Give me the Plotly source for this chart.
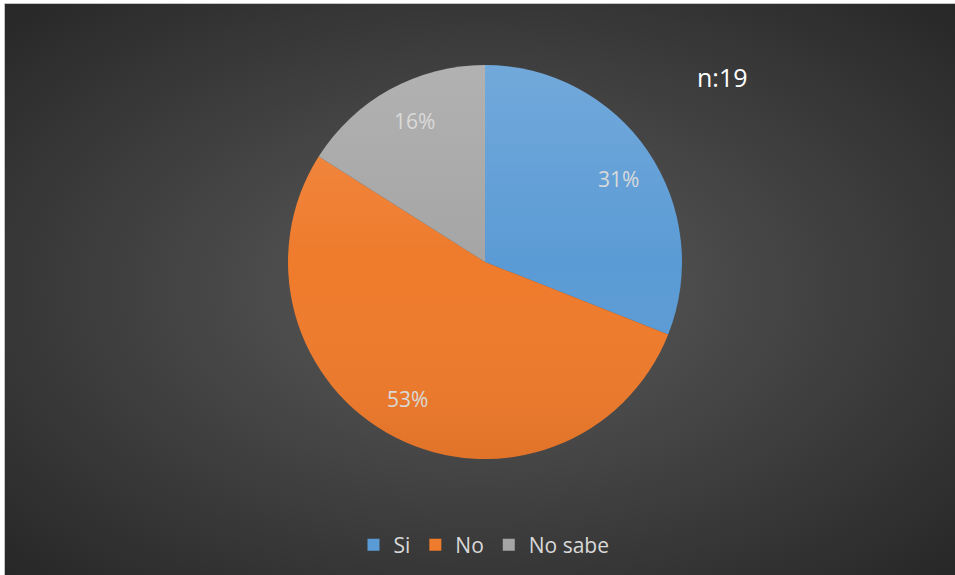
import base64
import math
import plotly.graph_objects as go

# Survey answers (percent of respondents)
categories = ["Si", "No", "No sabe"]
shares = [31, 53, 16]
slice_colors = ["#5b9bd5", "#ef7b2c", "#a5a5a5"]
sample_note = "n:19"

W, H = 955, 575
# pie geometry in pixels
cx, cy, R = 485, 262, 197
label_r = 0.80
label_turn = 0.04  # small clockwise nudge of the label angle (radians)

def px_x(x):
    return x / W

def px_y(y):
    return 1 - y / H

def svg_uri(svg):
    return "data:image/svg+xml;base64," + base64.b64encode(svg.encode()).decode()

background_svg = (
    '<svg xmlns="http://www.w3.org/2000/svg" width="950" height="571" viewBox="0 0 100 100" preserveAspectRatio="none">'
    '<defs><radialGradient id="g" cx="50%" cy="50%" r="72%">'
    '<stop offset="0" stop-color="#5c5c5c"/><stop offset="1" stop-color="#262626"/>'
    '</radialGradient></defs><rect x="0" y="0" width="100" height="100" fill="url(#g)"/></svg>'
)

shade_svg = (
    '<svg xmlns="http://www.w3.org/2000/svg" width="400" height="400" viewBox="0 0 100 100">'
    '<defs><linearGradient id="s" x1="0" y1="0" x2="0" y2="1">'
    '<stop offset="0" stop-color="#ffffff" stop-opacity="0.14"/>'
    '<stop offset="0.5" stop-color="#ffffff" stop-opacity="0"/>'
    '<stop offset="1" stop-color="#000000" stop-opacity="0.06"/>'
    '</linearGradient></defs><circle cx="50" cy="50" r="50" fill="url(#s)"/></svg>'
)

fig = go.Figure(
    go.Pie(
        labels=categories,
        values=shares,
        marker=dict(colors=slice_colors, line=dict(width=0)),
        sort=False,
        direction="clockwise",
        rotation=0,
        textinfo="none",
        hoverinfo="label+percent",
        domain=dict(x=[px_x(cx - R), px_x(cx + R)], y=[px_y(cy + R), px_y(cy - R)]),
    )
)

# percentage labels placed along each slice bisector
annotations = []
total = sum(shares)
cum = 0
for name, v in zip(categories, shares):
    mid = (cum + v / 2) / total * 2 * math.pi + label_turn
    cum += v
    lx = cx + label_r * R * math.sin(mid)
    ly = cy - label_r * R * math.cos(mid)
    annotations.append(dict(
        x=px_x(lx), y=px_y(ly), xref="paper", yref="paper",
        text=f"{v}%", showarrow=False,
        font=dict(family="Open Sans", size=21, color="#dadada"),
        xanchor="center", yanchor="middle",
    ))

annotations.append(dict(
    x=px_x(722), y=px_y(77), xref="paper", yref="paper",
    text=sample_note, showarrow=False,
    font=dict(family="Open Sans", size=25, color="#ffffff"),
    xanchor="center", yanchor="middle",
))

fig.update_layout(
    width=W, height=H,
    margin=dict(l=0, r=0, t=0, b=0),
    paper_bgcolor="#ffffff",
    plot_bgcolor="rgba(0,0,0,0)",
    showlegend=True,
    legend=dict(
        orientation="h",
        x=px_x(484), y=px_y(545), xanchor="center", yanchor="middle",
        font=dict(family="Open Sans", size=21, color="#d9d9d9"),
        bgcolor="rgba(0,0,0,0)",
        itemwidth=30,
    ),
    annotations=annotations,
    images=[
        dict(
            source=svg_uri(background_svg), xref="paper", yref="paper",
            x=px_x(5), y=px_y(4), sizex=1 - px_x(5), sizey=px_y(4),
            xanchor="left", yanchor="top", sizing="stretch", layer="below",
        ),
        dict(
            source=svg_uri(shade_svg), xref="paper", yref="paper",
            x=px_x(cx - R), y=px_y(cy - R), sizex=2 * R / W, sizey=2 * R / H,
            xanchor="left", yanchor="top", sizing="stretch", layer="above",
        ),
    ],
    shapes=[
        dict(type="rect", xref="paper", yref="paper",
             x0=px_x(4.5), y0=px_y(H + 2), x1=px_x(W + 2), y1=px_y(3.5),
             line=dict(color="#c4c4c4", width=1), fillcolor="rgba(0,0,0,0)", layer="below"),
    ],
)

fig.write_html("out.html")
